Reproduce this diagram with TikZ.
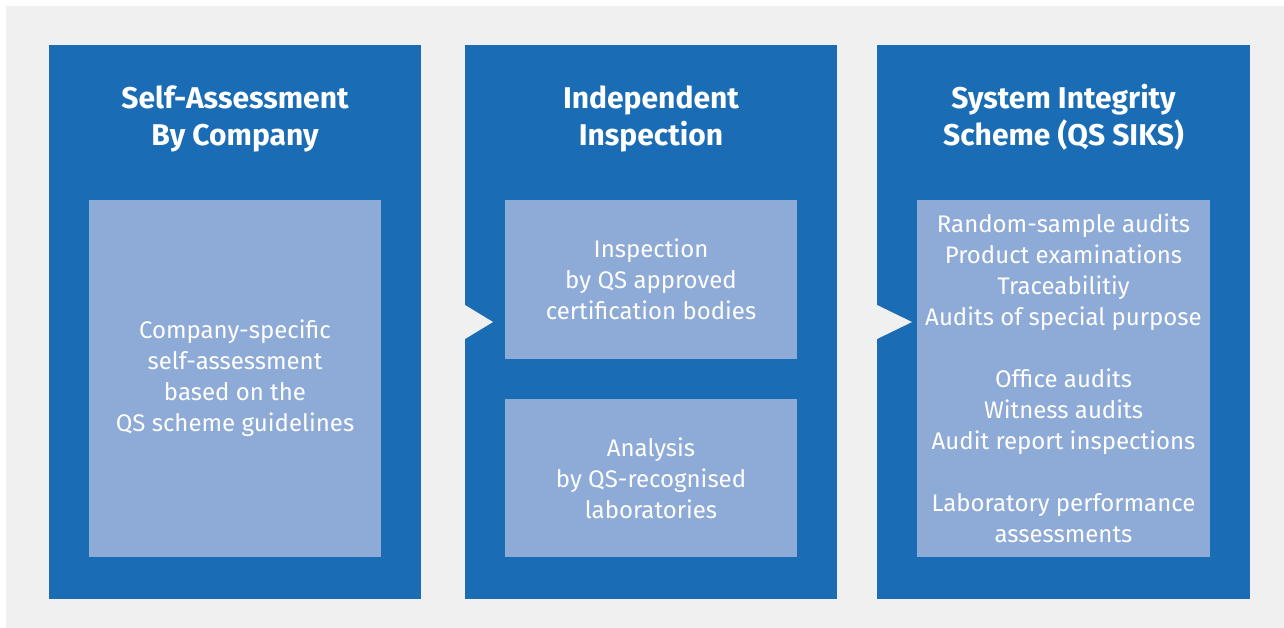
\documentclass[tikz,border=0pt]{standalone}
\usepackage{fontspec}
\setmainfont{Fira Sans}
\usepackage{tikz}
\definecolor{panelblue}{RGB}{26,108,181}
\definecolor{boxblue}{RGB}{142,170,214}
\definecolor{gapgray}{RGB}{240,240,240}
\tikzset{
  panel/.style={fill=panelblue,minimum width=372pt,minimum height=554pt,inner sep=0pt,outer sep=0pt},
  inbox/.style={fill=boxblue,minimum width=292pt,inner sep=0pt,outer sep=0pt,text=white,align=center,font=\fontsize{24}{31}\selectfont},
  heading/.style={text=white,align=center,font=\fontsize{30}{37}\selectfont\bfseries},
  notch/.style={fill=gapgray},
}

\begin{document}
\begin{tikzpicture}[x=1pt,y=-1pt]
        \useasboundingbox (0,0) rectangle (1284,628);
        \fill[white] (0,0) rectangle (1284,628);
        \fill[gapgray] (6,6) rectangle (1284,628);
        % three columns
        \node (pnlA) at (235,322) [panel] {};
        \node (pnlB) at (651,322) [panel] {};
        \node (pnlC) at (1063.5,322) [panel,minimum width=373pt] {};
        \node (ttlA) at (235,119) [heading] {Self-Assessment\\By Company};
        \node (ttlB) at (651,119) [heading] {Independent\\Inspection};
        \node (ttlC) at (1063.5,117) [heading] {System Integrity\\Scheme (QS SIKS)};
        \node (boxA) at (235,378.5) [inbox,minimum height=357pt] {Company-specific\\self-assessment\\based on the\\QS scheme guidelines};
        \node (boxB1) at (651,279.5) [inbox,minimum height=159pt] {Inspection\\by QS approved\\certification bodies};
        \node (boxB2) at (651,478) [inbox,minimum height=158pt] {Analysis\\by QS-recognised\\laboratories};
        \node (boxC) at (1063.5,378.5) [inbox,minimum width=293pt,minimum height=357pt] {Random-sample audits\\Product examinations\\Traceabilitiy\\Audits of special purpose\\[31pt]Office audits\\Witness audits\\Audit report inspections\\[31pt]Laboratory performance\\assessments};
        % arrows between columns
        \fill[notch] ([yshift=17pt]pnlB.west) -- ([xshift=28pt]pnlB.west) -- ([yshift=-17pt]pnlB.west) -- cycle;
        \fill[notch] ([yshift=17pt]pnlC.west) -- ([xshift=35pt]pnlC.west) -- ([yshift=-17pt]pnlC.west) -- cycle;
      \end{tikzpicture}
\end{document}
